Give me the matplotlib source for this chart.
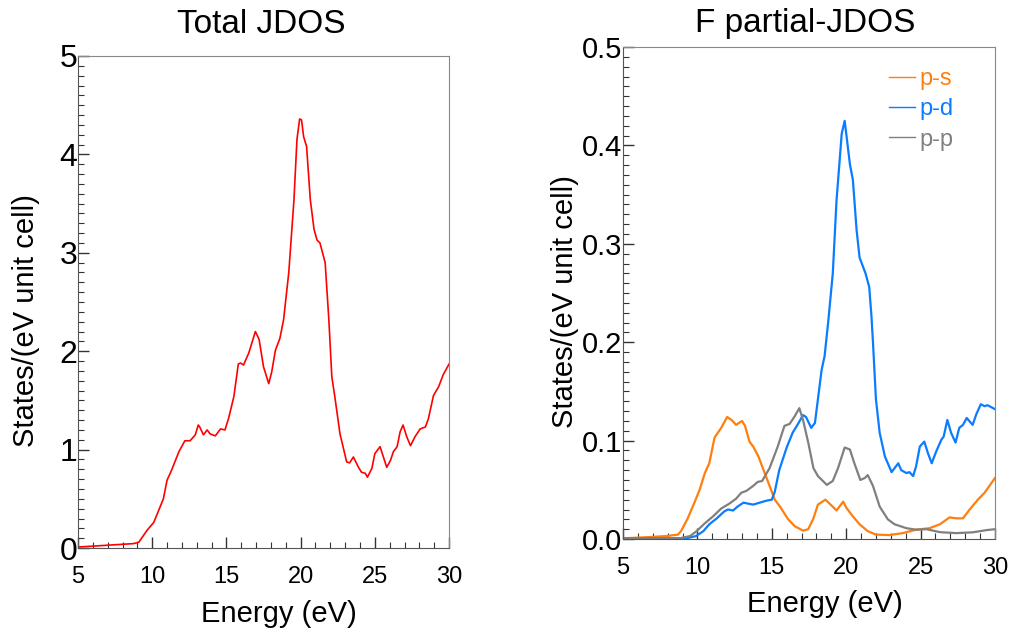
import numpy as np
import matplotlib
matplotlib.use("Agg")
import matplotlib.pyplot as plt
from matplotlib import font_manager
from matplotlib.ticker import MultipleLocator, FixedLocator

plt.rcParams['font.family'] = ['Liberation Sans', 'DejaVu Sans']

# narrow face for the y tick numbers, if the system has it
_names = {f.name for f in font_manager.fontManager.ttflist}
NARROW = 'Liberation Sans Narrow' if 'Liberation Sans Narrow' in _names else 'Liberation Sans'

#%% Total JDOS (energy in eV, states/(eV unit cell))
e_tot = [5.0, 8.75, 9.1, 9.65, 10.1, 10.4, 10.75, 11.0, 11.3, 11.8, 12.2, 12.55, 12.9,
         13.1, 13.2, 13.45, 13.7, 13.9, 14.25, 14.6, 14.9, 15.15, 15.5, 15.8, 15.95,
         16.15, 16.5, 16.95, 17.2, 17.5, 17.85, 18.05, 18.3, 18.6, 18.85, 19.2, 19.55,
         19.75, 19.93, 20.06, 20.2, 20.4, 20.65, 20.9, 21.1, 21.3, 21.65, 21.9, 22.1,
         22.3, 22.65, 23.1, 23.3, 23.55, 23.9, 24.1, 24.35, 24.5, 24.8, 25.0, 25.35,
         25.8, 26.05, 26.25, 26.5, 26.7, 26.9, 27.15, 27.4, 27.7, 28.05, 28.4, 28.6,
         28.95, 29.3, 29.6, 30.0]
jdos_tot = [0.01, 0.045, 0.06, 0.18, 0.26, 0.37, 0.5, 0.69, 0.79, 0.98, 1.09, 1.09, 1.15,
            1.25, 1.23, 1.15, 1.2, 1.16, 1.14, 1.21, 1.2, 1.32, 1.54, 1.87, 1.88,
            1.86, 1.98, 2.2, 2.12, 1.84, 1.67, 1.79, 2.01, 2.13, 2.32, 2.8, 3.54,
            4.15, 4.36, 4.35, 4.18, 4.08, 3.54, 3.24, 3.13, 3.1, 2.9, 2.32, 1.74,
            1.54, 1.16, 0.875, 0.865, 0.925, 0.82, 0.77, 0.76, 0.72, 0.81, 0.96, 1.03,
            0.82, 0.89, 0.98, 1.03, 1.18, 1.25, 1.13, 1.04, 1.13, 1.21, 1.23, 1.31,
            1.55, 1.64, 1.76, 1.87]

#%% F partial JDOS
e_ps = [5.0, 6.8, 7.9, 8.7, 8.9, 9.35, 9.8, 10.15, 10.5, 10.8, 11.15, 11.6, 12.0, 12.3,
        12.6, 13.0, 13.2, 13.5, 13.75, 14.1, 14.4, 14.85, 15.2, 15.55, 16.1, 16.55,
        17.1, 17.45, 17.8, 18.1, 18.6, 18.95, 19.35, 19.55, 19.8, 20.0, 20.45, 20.9,
        21.45, 22.0, 22.9, 23.8, 24.7, 25.6, 26.3, 26.95, 27.4, 27.85, 28.3, 28.85,
        29.3, 30.0]
ps = [0.0007, 0.002, 0.003, 0.0045, 0.008, 0.021, 0.037, 0.05, 0.067, 0.077, 0.103,
      0.113, 0.124, 0.121, 0.116, 0.12, 0.115, 0.099, 0.094, 0.084, 0.072, 0.054, 0.04,
      0.033, 0.02, 0.013, 0.0085, 0.01, 0.021, 0.035, 0.04, 0.035, 0.029, 0.033, 0.038,
      0.032, 0.023, 0.015, 0.008, 0.0045, 0.004, 0.006, 0.0095, 0.011, 0.015, 0.022,
      0.021, 0.021, 0.03, 0.04, 0.047, 0.062]

e_pd = [5.0, 9.25, 9.9, 10.4, 10.8, 11.3, 11.8, 12.05, 12.4, 12.7, 13.1, 13.4, 13.75,
        14.2, 14.65, 15.0, 15.2, 15.5, 16.0, 16.4, 16.8, 17.1, 17.3, 17.65, 17.9, 18.1,
        18.35, 18.55, 18.8, 19.1, 19.35, 19.7, 19.9, 20.25, 20.45, 20.7, 20.9, 21.3,
        21.55, 21.7, 21.8, 22.0, 22.25, 22.6, 23.05, 23.25, 23.5, 23.7, 24.05, 24.25,
        24.5, 24.7, 24.95, 25.25, 25.5, 25.75, 26.05, 26.4, 26.55, 26.8, 27.05, 27.35,
        27.6, 27.85, 28.1, 28.5, 28.75, 29.05, 29.3, 29.5, 30.0]
pd_ = [0.0007, 0.0007, 0.003, 0.008, 0.015, 0.021, 0.028, 0.03, 0.029, 0.033, 0.037,
       0.036, 0.035, 0.037, 0.039, 0.04, 0.048, 0.07, 0.093, 0.108, 0.118, 0.126, 0.124,
       0.113, 0.118, 0.142, 0.172, 0.186, 0.222, 0.27, 0.344, 0.412, 0.425, 0.381, 0.365,
       0.314, 0.286, 0.27, 0.256, 0.226, 0.2, 0.142, 0.108, 0.084, 0.068, 0.072, 0.077,
       0.07, 0.067, 0.068, 0.064, 0.074, 0.094, 0.099, 0.087, 0.077, 0.089, 0.101, 0.104,
       0.121, 0.108, 0.098, 0.113, 0.116, 0.123, 0.116, 0.127, 0.137, 0.135, 0.136, 0.132]

e_pp = [5.0, 8.8, 9.5, 9.95, 10.5, 11.05, 11.6, 12.15, 12.6, 12.95, 13.3, 13.75, 14.05,
        14.35, 14.85, 15.4, 15.85, 16.2, 16.55, 16.85, 17.1, 17.45, 17.8, 18.1, 18.7,
        19.1, 19.45, 19.9, 20.25, 20.55, 20.95, 21.25, 21.45, 21.8, 22.25, 22.8, 23.25,
        24.05, 24.7, 25.4, 26.3, 27.4, 28.5, 29.4, 30.0]
pp = [0.0007, 0.0007, 0.003, 0.008, 0.016, 0.023, 0.031, 0.036, 0.041, 0.047, 0.049,
      0.054, 0.058, 0.059, 0.072, 0.094, 0.115, 0.117, 0.125, 0.133, 0.121, 0.098, 0.072,
      0.064, 0.055, 0.059, 0.072, 0.093, 0.091, 0.077, 0.06, 0.062, 0.065, 0.054, 0.033,
      0.02, 0.015, 0.011, 0.0095, 0.01, 0.007, 0.006, 0.0068, 0.009, 0.01]

x_ticks = [5, 10, 15, 20, 25, 30]
y_ticks_tot = [0, 1, 2, 3, 4, 5]
y_ticks_part = [0.0, 0.1, 0.2, 0.3, 0.4, 0.5]

#%% Plot
fig = plt.figure(figsize=(10.16, 6.34), dpi=100)
ax1 = fig.add_axes([0.0768, 0.1356, 0.3652, 0.7761])
ax2 = fig.add_axes([0.6132, 0.1498, 0.3661, 0.7760])


def style_axis(ax, yticks, ylim, ytick_size, ylab_x, ylab_y, xlab_y):
    ax.set_xlim(5, 30)
    ax.set_ylim(*ylim)
    ax.xaxis.set_major_locator(FixedLocator(x_ticks))
    ax.xaxis.set_minor_locator(MultipleLocator(1))
    ax.yaxis.set_major_locator(FixedLocator(yticks))
    ax.yaxis.set_minor_locator(MultipleLocator((yticks[1] - yticks[0]) / 10))
    ax.tick_params(which='both', direction='in', top=False, right=False, color='#333333')
    ax.tick_params(which='major', length=8, width=1)
    ax.tick_params(which='minor', length=4, width=0.8)
    ax.tick_params(axis='x', labelsize=17, pad=13)
    ax.tick_params(axis='y', labelsize=ytick_size, pad=0.5)
    for lab in ax.get_yticklabels():
        lab.set_fontfamily(NARROW)
    for side in ['top', 'right']:
        ax.spines[side].set_color('#888888')
    for side in ['left', 'bottom']:
        ax.spines[side].set_color('#555555')
    ax.set_xlabel("Energy (eV)", fontsize=21)
    ax.set_ylabel("States/(eV unit cell)", fontsize=21)
    ax.xaxis.set_label_coords(0.542, xlab_y)
    ax.yaxis.set_label_coords(ylab_x, ylab_y)


ax1.plot(e_tot, jdos_tot, color='#ff0000', lw=1.2)
ax1.set_yticks(y_ticks_tot, [str(v) for v in y_ticks_tot])
style_axis(ax1, y_ticks_tot, (0, 5), 23, -0.102, 0.463, -0.106)
ax1.text(0.493, 1.047, "Total JDOS", transform=ax1.transAxes, fontsize=24,
         ha='center', va='baseline')

ax2.plot(e_ps, ps, color='#ff7f0e', lw=1.6, label='p-s')
ax2.plot(e_pd, pd_, color='#0a7cff', lw=1.6, label='p-d')
ax2.plot(e_pp, pp, color='#808080', lw=1.6, label='p-p')
ax2.set_yticks(y_ticks_part, [f"{v:.1f}" for v in y_ticks_part])
style_axis(ax2, y_ticks_part, (0, 0.5), 21, -0.118, 0.482, -0.104)
ax2.text(0.489, 1.030, "F partial-JDOS", transform=ax2.transAxes, fontsize=24,
         ha='center', va='baseline')

leg = ax2.legend(loc='upper left', frameon=False, fontsize=17, handlelength=1.1,
                 handletextpad=0.2, labelspacing=0.35, bbox_to_anchor=(0.715, 0.957),
                 borderaxespad=0, borderpad=0)
for line, text in zip(leg.get_lines(), leg.get_texts()):
    line.set_linewidth(1.0)
    text.set_color(line.get_color())

fig.savefig("out.png", dpi=100)
